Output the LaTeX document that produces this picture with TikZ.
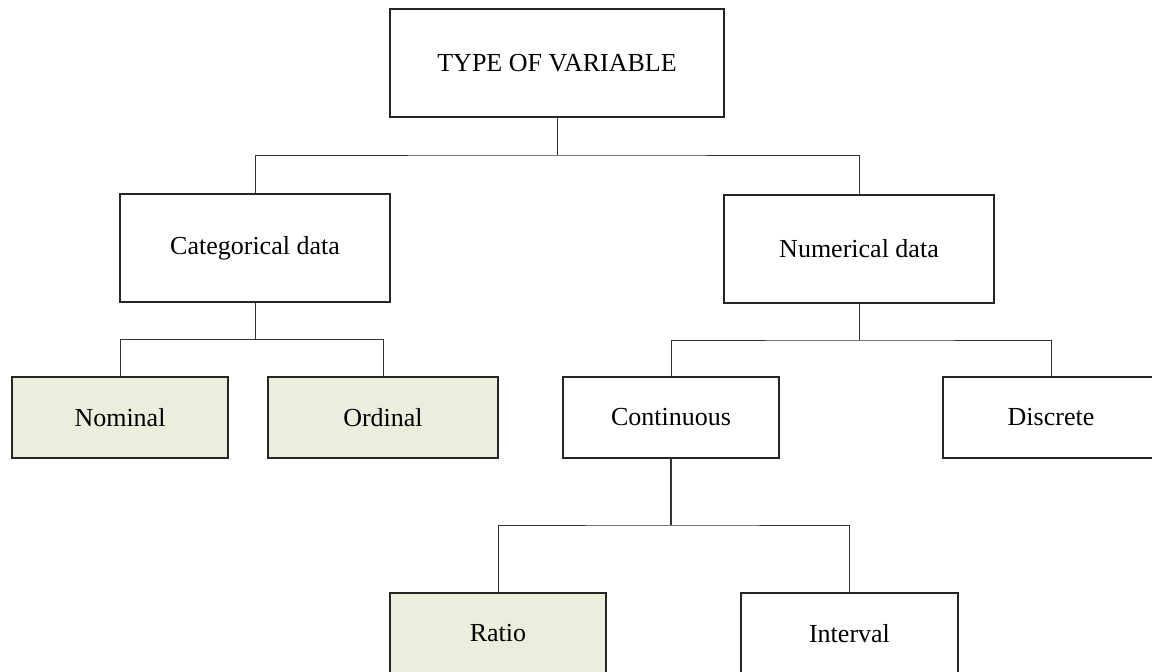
\documentclass[tikz,border=0pt]{standalone}
\usepackage{fontspec}
\setmainfont{Liberation Serif}
\begin{document}
\begin{tikzpicture}[x=1pt,y=-1pt,
  box/.style={draw=black!85,line width=1.1pt,fill=white,minimum width=216pt,minimum height=81pt,
              inner sep=0pt,font=\fontsize{26}{31}\selectfont},
  leaf/.style={box,fill=leafgreen},
  link/.style={draw=black!80,line width=1pt}]
\definecolor{leafgreen}{HTML}{EBEEDD}
\clip (0,0) rectangle (1152,672);
\fill[white] (0,0) rectangle (1152,672);

% boxes
\node[box,minimum width=334pt,minimum height=108pt] (top) at (557,63) {TYPE OF VARIABLE};
\node[box,minimum width=270pt,minimum height=108pt] (cat) at (255,248) {Categorical data};
\node[box,minimum width=270pt,minimum height=108pt] (num) at (859,249) {Numerical data};
\node[leaf] (nom) at (120,417.5) {Nominal};
\node[leaf,minimum width=230pt] (ord) at (383,417.5) {Ordinal};
\node[box] (cont) at (671,417.5) {Continuous};
\node[box] (disc) at (1051,417.5) {Discrete};
\node[leaf] (ratio) at (498,633.5) {Ratio};
\node[box,minimum width=217pt] (intv) at (849.5,633.5) {Interval};

% junction points
\coordinate (j1) at (557,155);
\coordinate (j2) at (255,339.5);
\coordinate (j3) at (859,340);
\coordinate (j4) at (671,525);

% connectors
\draw[link] (top.south) -- (j1);
\draw[link] (cat.north) |- (j1) -| (num.north);
\draw[link] (cat.south) -- (j2);
\draw[link] (nom.north) |- (j2) -| (ord.north);
\draw[link] (num.south) -- (j3);
\draw[link] (cont.north) |- (j3) -| (disc.north);
\draw[link,line width=2pt] (cont.south) -- (j4);
\draw[link] (ratio.north) |- (j4) -| (intv.north);
\end{tikzpicture}
\end{document}
